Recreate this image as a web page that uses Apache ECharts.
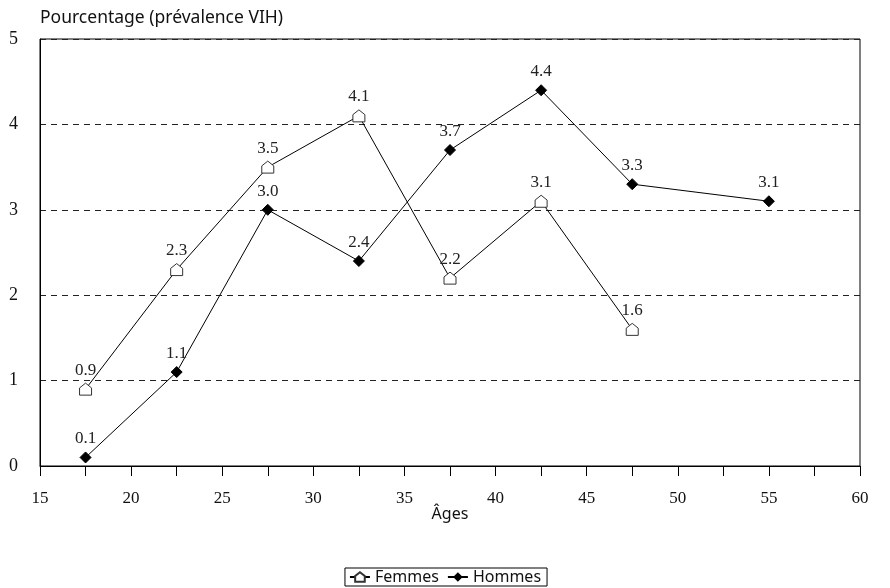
<!DOCTYPE html>
<html>
<head>
<meta charset="utf-8">
<script src="https://cdn.jsdelivr.net/npm/echarts@6/dist/echarts.min.js"></script>
<style>
  html, body { margin: 0; padding: 0; background: #fff; }
  #chart { width: 890px; height: 588px; }
</style>
</head>
<body>
<div id="chart"></div>
<script>
// age group midpoints and prevalence (%)
const femmesAges = [17.5, 22.5, 27.5, 32.5, 37.5, 42.5, 47.5];
const femmesValues = [0.9, 2.3, 3.5, 4.1, 2.2, 3.1, 1.6];
const hommesAges = [17.5, 22.5, 27.5, 32.5, 37.5, 42.5, 47.5, 55];
const hommesValues = [0.1, 1.1, 3.0, 2.4, 3.7, 4.4, 3.3, 3.1];

const serif = 'Liberation Serif';
const sans = 'Noto Sans';
const houseIcon = 'path://M0,10 L0,4 L5,0 L10,4 L10,10 Z';

const chart = echarts.init(document.getElementById('chart'));

const labelStyle = {
  show: true,
  position: 'top',
  distance: 4,
  fontFamily: serif,
  fontSize: 17,
  color: '#222',
  formatter: p => p.value[1].toFixed(1)
};

const option = {
  animation: false,
  backgroundColor: '#fff',
  grid: {
    left: 40, right: 30, top: 39, bottom: 122,
    show: true, borderColor: '#000', borderWidth: 1
  },
  legend: {
    bottom: 2,
    left: 'center',
    itemGap: 8,
    itemWidth: 20,
    itemHeight: 12,
    padding: [1, 6, 1, 4],
    borderColor: '#000',
    borderWidth: 1,
    borderRadius: 0,
    textStyle: { fontFamily: sans, fontSize: 16, color: '#111' },
    data: ['Femmes', 'Hommes']
  },
  xAxis: {
    type: 'value',
    min: 15, max: 60, interval: 2.5,
    name: 'Âges',
    nameLocation: 'middle',
    nameGap: 40,
    nameMoveOverlap: false,
    nameTextStyle: { fontFamily: sans, fontSize: 16, color: '#111' },
    axisLine: { lineStyle: { color: '#000', width: 1 } },
    axisTick: { show: true, length: 10, lineStyle: { color: '#000' } },
    axisLabel: {
      fontFamily: serif, fontSize: 17, color: '#111', margin: 24,
      formatter: v => (v % 5 === 0 ? String(v) : '')
    },
    splitLine: { show: false }
  },
  yAxis: {
    type: 'value',
    min: 0, max: 5, interval: 1,
    name: 'Pourcentage (prévalence VIH)',
    nameLocation: 'end',
    nameGap: 12,
    nameTextStyle: { fontFamily: sans, fontSize: 17.5, color: '#111', align: 'left' },
    axisLine: { show: true, lineStyle: { color: '#000' } },
    axisTick: { show: false },
    axisLabel: { fontFamily: serif, fontSize: 18, color: '#111', margin: 22 },
    splitLine: { show: true, lineStyle: { color: '#222', type: [6, 5], width: 1 } }
  },
  series: [
    {
      name: 'Femmes',
      type: 'line',
      data: femmesAges.map((a, i) => [a, femmesValues[i]]),
      symbol: houseIcon,
      symbolSize: 12,
      showAllSymbol: true,
      lineStyle: { color: '#000', width: 1 },
      itemStyle: { color: '#fff', borderColor: '#333', borderWidth: 1 },
      label: labelStyle
    },
    {
      name: 'Hommes',
      type: 'line',
      data: hommesAges.map((a, i) => [a, hommesValues[i]]),
      symbol: 'diamond',
      symbolSize: 11,
      showAllSymbol: true,
      lineStyle: { color: '#000', width: 1 },
      itemStyle: { color: '#000', borderColor: '#000' },
      label: labelStyle
    }
  ]
};

chart.setOption(option);
</script>
</body>
</html>
